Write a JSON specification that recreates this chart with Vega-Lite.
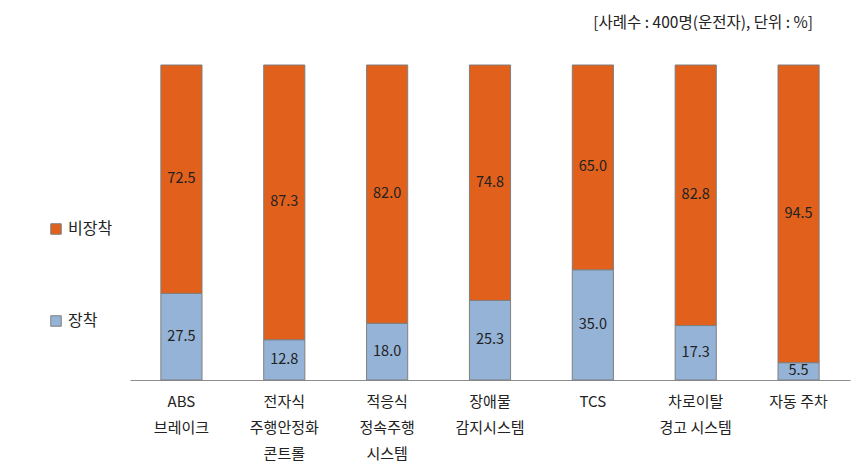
{
  "$schema": "https://vega.github.io/schema/vega-lite/v6.json",
  "width": 720,
  "height": 315,
  "autosize": {"type": "none"},
  "padding": {"left": 130, "top": 65, "right": 11, "bottom": 96},
  "background": "white",
  "config": {
    "font": "Noto Sans CJK KR",
    "view": {"stroke": null}
  },
  "title": {
    "text": "[사례수 : 400명(운전자), 단위 : %]",
    "anchor": "end",
    "dx": -37,
    "offset": 33,
    "fontSize": 15.5,
    "fontWeight": "normal",
    "color": "#222222",
    "font": "Noto Sans CJK KR"
  },
  "data": {
    "values": [
      {"item": "ABS\n브레이크", "type": "장착", "value": 27.5},
      {"item": "ABS\n브레이크", "type": "비장착", "value": 72.5},
      {"item": "전자식\n주행안정화\n콘트롤", "type": "장착", "value": 12.8},
      {"item": "전자식\n주행안정화\n콘트롤", "type": "비장착", "value": 87.3},
      {"item": "적응식\n정속주행\n시스템", "type": "장착", "value": 18.0},
      {"item": "적응식\n정속주행\n시스템", "type": "비장착", "value": 82.0},
      {"item": "장애물\n감지시스템", "type": "장착", "value": 25.3},
      {"item": "장애물\n감지시스템", "type": "비장착", "value": 74.8},
      {"item": "TCS", "type": "장착", "value": 35.0},
      {"item": "TCS", "type": "비장착", "value": 65.0},
      {"item": "차로이탈\n경고 시스템", "type": "장착", "value": 17.3},
      {"item": "차로이탈\n경고 시스템", "type": "비장착", "value": 82.8},
      {"item": "자동 주차", "type": "장착", "value": 5.5},
      {"item": "자동 주차", "type": "비장착", "value": 94.5}
    ]
  },
  "encoding": {
    "x": {
      "field": "item",
      "type": "nominal",
      "sort": null,
      "scale": {"paddingInner": 0.6, "paddingOuter": 0.3},
      "axis": {
        "title": null,
        "labelAngle": 0,
        "labelExpr": "split(datum.label, '\\n')",
        "labelLineHeight": 26,
        "labelFontSize": 15,
        "labelColor": "#222222",
        "labelPadding": 14,
        "labelFont": "Noto Sans CJK KR",
        "ticks": false,
        "domainColor": "#8c8c8c",
        "domainWidth": 1
      }
    },
    "y": {
      "field": "value",
      "type": "quantitative",
      "stack": "normalize",
      "axis": null
    },
    "order": {"field": "type", "sort": "descending"}
  },
  "layer": [
    {
      "mark": {"type": "bar", "stroke": "#7f7f7f", "strokeWidth": 1},
      "encoding": {
        "color": {
          "field": "type",
          "type": "nominal",
          "scale": {"domain": ["비장착", "장착"], "range": ["#E0601C", "#95B3D7"]},
          "legend": {
            "title": null,
            "orient": "none",
            "legendX": -82,
            "legendY": 156,
            "symbolType": "square",
            "symbolSize": 110,
            "symbolStrokeColor": "#7f7f7f",
            "symbolStrokeWidth": 1,
            "labelFontSize": 16,
            "labelColor": "#222222",
            "labelFont": "Noto Sans CJK KR",
            "rowPadding": 76,
            "labelOffset": 4
          }
        }
      }
    },
    {
      "mark": {"type": "text", "fontSize": 14.5, "color": "#222222", "font": "Noto Sans CJK KR"},
      "encoding": {
        "y": {
          "field": "value",
          "type": "quantitative",
          "stack": "normalize",
          "bandPosition": 0.5
        },
        "text": {"field": "value", "type": "quantitative", "format": ".1f"}
      }
    }
  ]
}
